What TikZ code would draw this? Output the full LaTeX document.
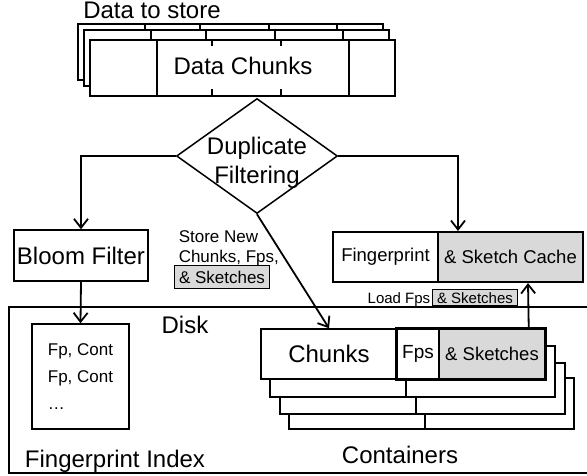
\documentclass[tikz,border=0pt]{standalone}
\usepackage{fontspec}
\setmainfont{Liberation Sans}
\usetikzlibrary{shapes.geometric,arrows.meta}
\definecolor{skgray}{HTML}{D9D9D9}
\begin{document}
\begin{tikzpicture}[x=1pt, y=-1pt, line width=1.5pt,
        big/.style = {font=\fontsize{24}{29}\selectfont},
        mid/.style = {font=\fontsize{18.5}{22}\selectfont},
        box/.style = {draw, fill=white, inner sep=0pt, minimum height=51pt, big},
        dia/.style = {draw, diamond, fill=white, inner sep=0pt, minimum width=161pt, minimum height=115pt},
        arr/.style = {-{Straight Barb[length=9pt, width=14pt]}, line width=1.8pt},
        tag/.style = {draw, fill=skgray, line width=1pt, inner xsep=4.5pt, inner ysep=5.5pt},
        layer/.style = {draw, fill=white}]
    \useasboundingbox (0,0) rectangle (587,475);

    % incoming data, split into chunks
    \node[big] (in) at (152,10.5) {Data to store};
    \foreach \dx/\dy in {-12/-16, -6/-10} {
        \draw[layer] (90+\dx,40+\dy) rectangle ++(305,56);
        \foreach \c in {67,122,191,259}
            \draw (90+\dx+\c,40+\dy) -- ++(0,56);
    }
    \draw[layer, line width=2pt] (90,40) rectangle (395,96);
    \draw[line width=2pt] (157,40) -- (157,96) (349,40) -- (349,96);
    \foreach \c in {212,281}
        \draw[line width=2pt] (\c,40) -- ++(0,6) (\c,96) -- ++(0,-7);
    \node[big] (data) at (243,66) {Data Chunks};

    \node[dia, label={[big, align=center, yshift=-7pt]center:{Duplicate\\Filtering}}] (dup) at (257,156) {};

    \node[box, minimum width=134pt] (bloom) at (81,255.5) {Bloom Filter};
    \node[box, mid, minimum width=105pt, minimum height=50pt, line width=2pt] (fp) at (385.5,257) {Fingerprint};
    \node[box, mid, fill=skgray, minimum width=145pt, minimum height=50pt, line width=2pt] (sk) at (510.5,257) {\& Sketch Cache};

    % disk
    \draw (590,307) -- (9,307) -- (9,473) -- (590,473);
    \node[big] (disk) at (185,325) {Disk};
    \node[draw, minimum width=97pt, minimum height=105pt, align=left,
          font=\fontsize{17}{27}\selectfont] (idx) at (80.5,376.5) {Fp, Cont\\Fp, Cont\\…};
    \node[big] (fpi) at (115,461) {Fingerprint Index};

    \foreach \dx/\dy in {28/49, 19/34, 9/17} {
        \draw[layer] (261+\dx,329+\dy) rectangle ++(285,51);
        \draw (397+\dx,329+\dy) -- ++(0,51);
    }
    \node[box, minimum width=136pt, minimum height=50pt] (ch) at (329,354) {Chunks};
    \node[box, minimum width=42pt, minimum height=50pt, font=\fontsize{19}{22}\selectfont] (fps) at (418,354) {Fps};
    \node[box, mid, fill=skgray, minimum width=106pt, minimum height=50pt] (sks) at (492,354) {\& Sketches};
    \draw[line width=2.4pt] (fps.north west) rectangle (sks.south east);
    \node[big] (cont) at (400,455) {Containers};

    \node[font=\fontsize{17}{20}\selectfont, align=left, anchor=north west, inner sep=0pt] (store) at (178,230) {Store New\\Chunks, Fps,};
    \node[tag, font=\fontsize{17}{20}\selectfont, anchor=north west] (st) at (174,265) {\& Sketches};
    \node[font=\fontsize{15}{18}\selectfont, anchor=base east, inner sep=0pt] (load) at (431,303) {Load Fps};
    \node[tag, font=\fontsize{15}{18}\selectfont, anchor=base west, inner ysep=2.5pt] (ld) at (432,303) {\& Sketches};

    \draw[arr] (dup.west) -| (bloom.north);
    \draw[arr] (dup.east) -| ([xshift=21pt]sk.north west);
    \draw[arr] (dup.south) -- (ch.north);
    \draw[arr] (bloom.south) -- (idx.north);
    \draw[arr] ([xshift=-17pt]sks.north east) -- ([xshift=17.5pt]sk.south);
\end{tikzpicture}
\end{document}
